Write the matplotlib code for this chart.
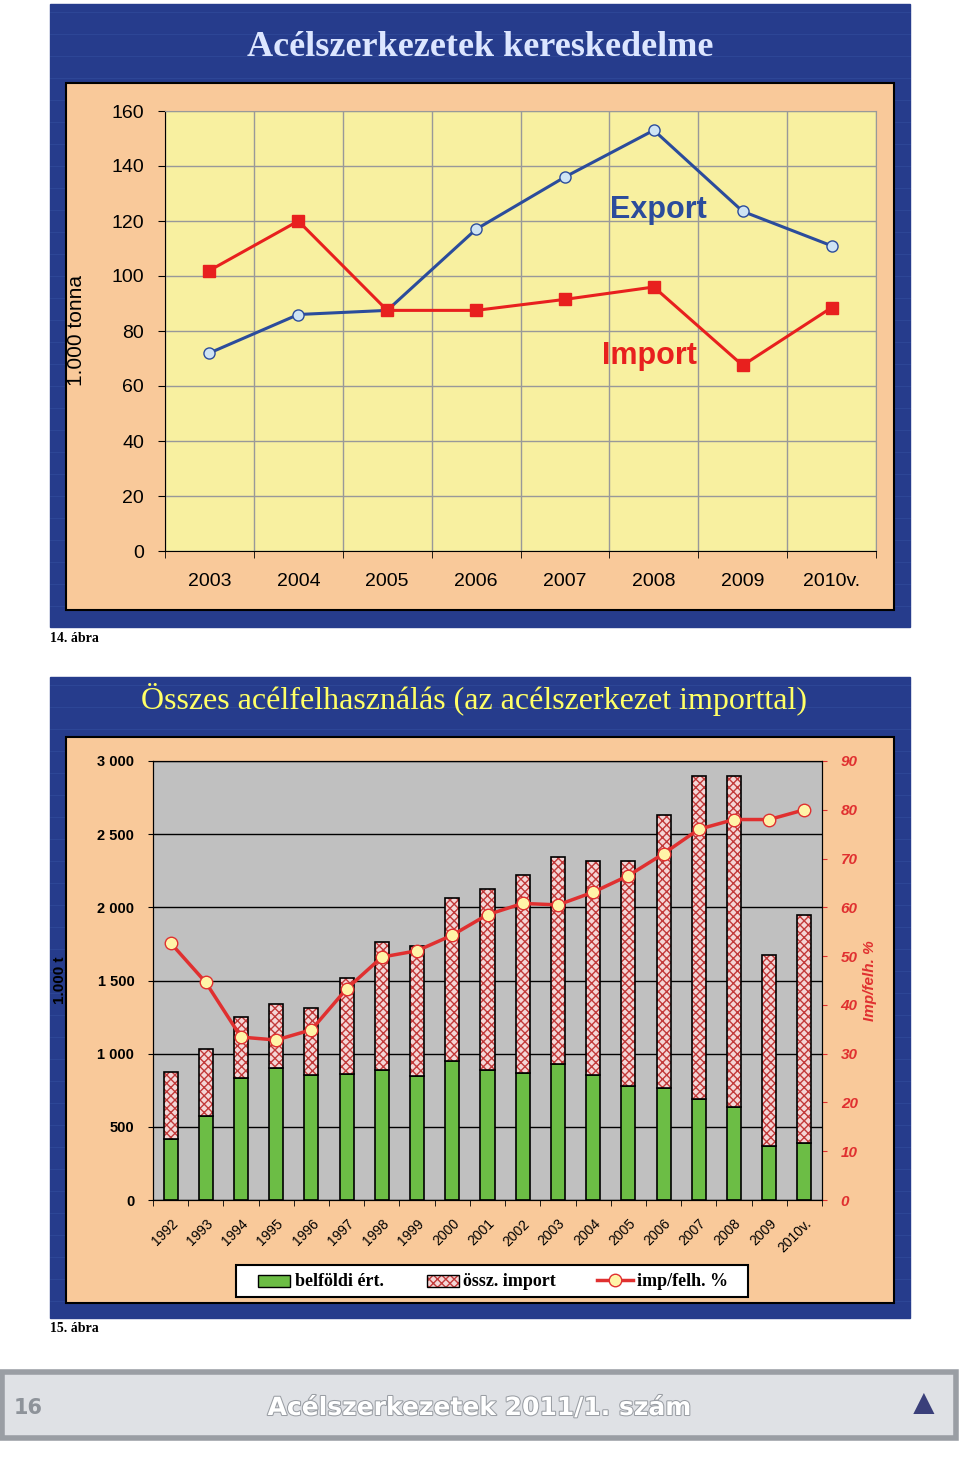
import matplotlib.pyplot as plt
from matplotlib.patches import Rectangle
import matplotlib.patheffects as pe
import numpy as np

plt.rcParams['font.family'] = 'Liberation Sans'

W, H = 960, 1461

# --- chart 14 data ---
years14 = ['2003', '2004', '2005', '2006', '2007', '2008', '2009', '2010v.']
export14 = [72, 86, 87.5, 117, 136, 153, 123.5, 111]
import14 = [102, 120, 87.5, 87.5, 91.5, 96, 67.5, 88.5]

# --- chart 15 data ---
years15 = ['1992', '1993', '1994', '1995', '1996', '1997', '1998', '1999', '2000', '2001',
           '2002', '2003', '2004', '2005', '2006', '2007', '2008', '2009', '2010v.']
belfoldi = [416, 573, 832, 900, 857, 861, 886, 848, 948, 886,
            870, 930, 857, 782, 768, 689, 634, 370, 391]
total = [877, 1030, 1250, 1336, 1311, 1520, 1764, 1736, 2061, 2125,
         2220, 2345, 2314, 2314, 2632, 2900, 2900, 1673, 1948]
imp_pct = [52.7, 44.6, 33.4, 32.8, 34.9, 43.3, 49.8, 51.1, 54.3, 58.5,
           60.8, 60.5, 63.1, 66.5, 71.0, 76.0, 78.0, 78.0, 80.0]
import15 = [t - b for t, b in zip(total, belfoldi)]


def box(x0, y0, x1, y1):
    return [x0 / W, 1 - y1 / H, (x1 - x0) / W, (y1 - y0) / H]


fig = plt.figure(figsize=(9.6, 14.61), dpi=100)
fig.patch.set_facecolor('white')
bg = fig.add_axes([0, 0, 1, 1])
bg.set_xlim(0, W)
bg.set_ylim(H, 0)
bg.axis('off')

BLUE = '#263c8c'
PEACH = '#f9c99a'
# frames
for (x0, y0, x1, y1) in [(50, 4, 910, 627), (50, 677, 910, 1318)]:
    bg.add_patch(Rectangle((x0, y0), x1 - x0, y1 - y0, color=BLUE, zorder=0))
    for yy in np.arange(y0 + 8, y1, 22):
        bg.plot([x0, x1], [yy, yy], color='#2f4898', lw=0.6, zorder=0.5)
bg.add_patch(Rectangle((66, 83), 828, 527, facecolor=PEACH, edgecolor='black', lw=1.5, zorder=1))
bg.add_patch(Rectangle((66, 737), 828, 566, facecolor=PEACH, edgecolor='black', lw=1.5, zorder=1))
bg.text(480, 48, 'Acélszerkezetek kereskedelme', ha='center', va='center',
        fontsize=26, family='Liberation Serif', color='#dce6ff', fontweight='bold')
bg.text(474, 700, 'Összes acélfelhasználás (az acélszerkezet importtal)', ha='center', va='center',
        fontsize=23, family='Liberation Serif', color='#ffff66')
bg.text(50, 638, '14. ábra', fontsize=10, family='Liberation Serif', va='center', fontweight='bold')
bg.text(50, 1328, '15. ábra', fontsize=10, family='Liberation Serif', va='center', fontweight='bold')

# footer
bg.add_patch(Rectangle((2, 1372), 954, 66, facecolor='#dfe1e5', edgecolor='#9a9ea4', lw=4))
bg.text(28, 1408, '16', fontsize=15, color='#8e939a', fontweight='bold', va='center', ha='center',
        family='DejaVu Sans Condensed')
bg.text(480, 1408, 'Acélszerkezetek 2011/1. szám', fontsize=18, color='white', fontweight='bold',
        va='center', ha='center', family='DejaVu Sans Condensed',
        path_effects=[pe.withStroke(linewidth=1.5, foreground='#9a9ea4')])
bg.text(924, 1405, '▲', fontsize=26, color='#3a3f7a', va='center', ha='center')

# --- chart 14 ---
ax = fig.add_axes(box(165, 111, 876, 551))
ax.set_facecolor('#f8f0a0')
x = np.arange(len(years14))
ax.plot(x, export14, color='#2b4c9c', lw=2.2, marker='o', ms=8, mfc='#cfe4f4', mec='#2b4c9c', zorder=3)
ax.plot(x, import14, color='#e8201e', lw=2.2, marker='s', ms=8, mfc='#e8201e', mec='#e8201e', zorder=3)
ax.set_xlim(-0.5, len(years14) - 0.5)
ax.set_ylim(0, 160)
ax.set_yticks(range(0, 161, 20))
ax.set_xticks(x)
ax.set_xticklabels(years14)
ax.set_xticks(np.arange(-0.5, len(years14)), minor=True)
ax.tick_params(axis='x', which='major', length=0, pad=16, labelsize=14)
ax.tick_params(axis='x', which='minor', length=5)
ax.tick_params(axis='y', labelsize=14, length=5, pad=10)
ax.grid(True, axis='y', color='#999999', lw=1)
ax.grid(True, axis='x', which='minor', color='#999999', lw=1)
for s in ['top', 'right']:
    ax.spines[s].set_color('#999999')
ax.set_ylabel('1.000 tonna', fontsize=15, labelpad=18)
ax.text(5.05, 124, 'Export', color='#2b4c9c', fontsize=22, fontweight='bold', ha='center', va='center')
ax.text(4.95, 71, 'Import', color='#e8201e', fontsize=22, fontweight='bold', ha='center', va='center')

# --- chart 15 ---
ax2 = fig.add_axes(box(153, 761, 822, 1200))
ax2.set_facecolor('#c0c0c0')
x2 = np.arange(len(years15))
ax2.bar(x2, belfoldi, 0.4, color='#6cbd45', edgecolor='black', lw=1.2, zorder=2)
ax2.bar(x2, import15, 0.4, bottom=belfoldi, facecolor='#f4d6d6', edgecolor='#c23a3a',
        hatch='xxxx', lw=0, zorder=2)
ax2.bar(x2, import15, 0.4, bottom=belfoldi, fill=False, edgecolor='black', lw=1.2, zorder=2)
ax2.set_xlim(-0.5, len(years15) - 0.5)
ax2.set_ylim(0, 3000)
ax2.set_yticks(range(0, 3001, 500))
ax2.set_yticklabels(['0', '500', '1 000', '1 500', '2 000', '2 500', '3 000'])
ax2.grid(True, axis='y', color='black', lw=1, zorder=0)
ax2.set_axisbelow(True)
ax2.set_xticks(x2)
ax2.set_xticklabels(years15, rotation=45, ha='right', rotation_mode='anchor', fontsize=10)
ax2.set_xticks(np.arange(-0.5, len(years15)), minor=True)
ax2.tick_params(axis='x', which='major', length=0, pad=12)
ax2.tick_params(axis='x', which='minor', length=4)
ax2.tick_params(axis='y', labelsize=10.5, pad=10)
for t in ax2.get_yticklabels():
    t.set_fontweight('bold')
ax2.set_ylabel('1.000 t', fontsize=11, fontweight='bold', labelpad=22)

ax3 = ax2.twinx()
ax3.plot(x2, imp_pct, color='#e03030', lw=2.5, marker='o', ms=9, mfc='#fff4a8', mec='#e03030', zorder=4)
ax3.set_ylim(0, 90)
ax3.set_yticks(range(0, 91, 10))
ax3.tick_params(axis='y', colors='#e03030', labelsize=11, pad=10)
for t in ax3.get_yticklabels():
    t.set_fontweight('bold')
    t.set_fontstyle('italic')
ax3.set_ylabel('Imp/felh. %', color='#e03030', fontsize=11, fontweight='bold', style='italic')

# legend
bg.add_patch(Rectangle((236, 1265), 512, 32, facecolor='white', edgecolor='black', lw=1.5))
bg.add_patch(Rectangle((258, 1275), 32, 12, facecolor='#6cbd45', edgecolor='black', lw=1))
bg.text(295, 1281, 'belföldi ért.', fontsize=13, family='Liberation Serif', fontweight='bold', va='center')
bg.add_patch(Rectangle((427, 1275), 32, 12, facecolor='#f4d6d6', edgecolor='#c23a3a', hatch='xxxx', lw=0))
bg.add_patch(Rectangle((427, 1275), 32, 12, fill=False, edgecolor='black', lw=1))
bg.text(463, 1281, 'össz. import', fontsize=13, family='Liberation Serif', fontweight='bold', va='center')
bg.plot([597, 633], [1280, 1280], color='#e03030', lw=2.5)
bg.plot([615], [1280], 'o', ms=9, mfc='#fff4a8', mec='#e03030')
bg.text(637, 1281, 'imp/felh. %', fontsize=13, family='Liberation Serif', fontweight='bold', va='center')

fig.savefig('out.png', dpi=100)
